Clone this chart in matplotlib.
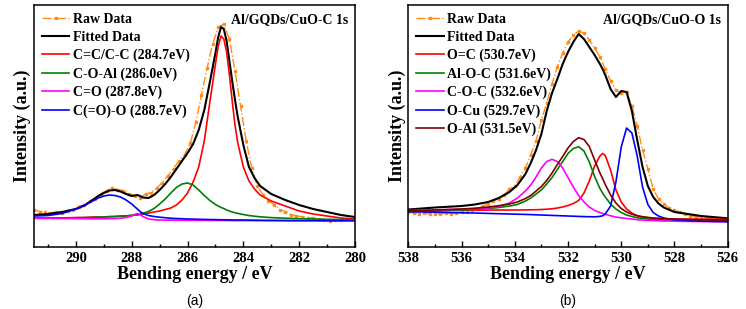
import matplotlib
matplotlib.use('Agg')
import matplotlib.pyplot as plt
from matplotlib.ticker import MultipleLocator

plt.rcParams['font.family'] = ['Liberation Serif', 'DejaVu Serif']
plt.rcParams['font.weight'] = 'bold'

# ---------------- panel (a): C 1s ----------------
raw_e_a = [291.5, 291.3, 291.1, 290.9, 290.7, 290.5, 290.3, 290.1, 289.9, 289.7,
           289.5, 289.3, 289.1, 288.9, 288.7, 288.5, 288.3, 288.1, 287.9, 287.7,
           287.5, 287.3, 287.1, 286.9, 286.7, 286.5, 286.3, 286.1, 285.9, 285.7,
           285.5, 285.3, 285.1, 284.9, 284.7, 284.5, 284.3, 284.1, 283.9, 283.7,
           283.5, 283.3, 283.1, 282.9, 282.7, 282.5, 282.3, 282.1, 281.9, 281.7,
           281.5, 281.3, 281.1, 280.9, 280.7, 280.5, 280.3, 280.1]
raw_i_a = [37.5, 35.5, 35.5, 34.0, 35.0, 34.5, 36.5, 37.5, 40.5, 42.0,
           46.0, 48.5, 53.5, 56.5, 59.5, 57.5, 56.5, 53.5, 51.5, 49.5,
           53.0, 54.5, 59.0, 64.5, 71.5, 78.5, 86.5, 92.5, 104.0, 125.0,
           152.0, 179.0, 203.0, 220.0, 223.0, 208.0, 176.0, 141.0, 106.0, 79.0,
           61.0, 52.5, 46.0, 42.5, 37.5, 35.5, 32.5, 31.0, 30.5, 29.0,
           29.5, 28.0, 27.5, 26.0, 27.0, 27.5, 28.5, 28.0]

grid_a = [291.5, 291.0, 290.5, 290.0, 289.7, 289.4, 289.2, 289.0, 288.8, 288.6,
          288.4, 288.2, 288.0, 287.9, 287.8, 287.7, 287.6, 287.4, 287.2, 287.0,
          286.8, 286.6, 286.4, 286.2, 286.0, 285.8, 285.6, 285.4, 285.2, 285.0,
          284.9, 284.8, 284.7, 284.6, 284.5, 284.4, 284.3, 284.2, 284.0, 283.8,
          283.6, 283.4, 283.0, 282.5, 282.0, 281.5, 281.0, 280.5, 280.0]
fit_a = [32, 33, 35, 38, 41.5, 47, 51, 54, 56.5, 57,
         55.5, 53, 51, 51.5, 52, 51, 49.5, 49, 52, 57,
         63, 70, 78, 86, 94, 103, 117, 137, 165, 194,
         210, 220, 218, 206, 186, 166, 147, 130, 102, 80,
         69, 61, 53, 47, 42, 38, 35, 32, 30]
cc_a = [29, 29, 29, 29.5, 29.5, 30, 30, 30, 30.5, 30.5,
        31, 31, 31.5, 32, 32, 32.5, 33, 34, 35, 36,
        37.5, 39, 42, 47, 54, 65, 80, 106, 145, 183,
        201, 211, 208, 195, 172, 146, 122, 104, 80, 66,
        58, 52, 46, 41, 36, 33, 31, 29, 28]
coal_a = [28.7, 28.8, 29, 29.2, 29.4, 29.6, 29.8, 30, 30.2, 30.5,
          30.8, 31.2, 31.7, 32, 32.5, 33, 33.7, 35.5, 38.5, 43,
          48, 54, 59.5, 63, 64, 62, 57, 51.5, 46.5, 42.5,
          41, 39.5, 38.5, 37, 36, 35, 34.3, 33.6, 32.5, 31.5,
          30.8, 30.2, 29.4, 28.8, 28.3, 28, 27.7, 27.5, 27.3]
co_a = [28.7, 28.6, 28.5, 28.4, 28.3, 28.2, 28.2, 28.2, 28.3, 28.5,
        28.8, 29.5, 31, 32.5, 33.5, 32.5, 30.5, 28, 27.3, 27,
        26.9, 26.9, 26.8, 26.8, 26.7, 26.7, 26.6, 26.6, 26.6, 26.5,
        26.5, 26.5, 26.5, 26.5, 26.5, 26.4, 26.4, 26.4, 26.4, 26.4,
        26.4, 26.4, 26.4, 26.3, 26.3, 26.3, 26.3, 26.3, 26.3]
coo_a = [31, 31.5, 33.5, 38, 41.5, 46, 49, 51, 52, 51.5,
         50, 47, 43, 40.5, 38, 35.5, 33.5, 31.5, 30.5, 29.8,
         29.3, 28.8, 28.5, 28.3, 28, 27.9, 27.7, 27.6, 27.5, 27.4,
         27.3, 27.3, 27.2, 27.2, 27.1, 27.1, 27.0, 27.0, 27.0, 26.9,
         26.8, 26.7, 26.6, 26.5, 26.4, 26.4, 26.3, 26.3, 26.3]

labels_a = ['C=C/C-C (284.7eV)', 'C-O-Al (286.0eV)', 'C=O (287.8eV)', 'C(=O)-O (288.7eV)']
colors_a = ['#FF0000', '#008000', '#FF00FF', '#0000FF']

# ---------------- panel (b): O 1s ----------------
raw_e_b = [538.0, 537.8, 537.6, 537.4, 537.2, 537.0, 536.8, 536.6, 536.4, 536.2,
           536.0, 535.8, 535.6, 535.4, 535.2, 535.0, 534.8, 534.6, 534.4, 534.2,
           534.0, 533.8, 533.6, 533.4, 533.2, 533.0, 532.8, 532.6, 532.4, 532.2,
           532.0, 531.8, 531.6, 531.4, 531.2, 531.0, 530.8, 530.6, 530.4, 530.2,
           530.0, 529.8, 529.6, 529.4, 529.2, 529.0, 528.8, 528.6, 528.4, 528.2,
           528.0, 527.8, 527.6, 527.4, 527.2, 527.0, 526.8, 526.6, 526.4, 526.2, 526.0]
raw_i_b = [35, 34, 33.5, 34, 33, 33.5, 33, 34, 33.5, 34.5,
           35, 35.5, 37, 38.5, 41, 43, 46, 48.5, 52, 58,
           61, 70, 79, 92, 106, 127, 144, 163, 180, 194,
           205, 212, 216, 214, 207, 199, 190, 178, 166, 157,
           154, 155, 141, 121, 97, 78, 58, 48, 43, 39,
           37, 35, 33, 31, 30, 29.5, 29, 28.5, 28, 28, 27.5]

grid_b = [538.0, 537.0, 536.0, 535.5, 535.0, 534.6, 534.2, 533.9, 533.6, 533.4,
          533.2, 533.0, 532.8, 532.6, 532.4, 532.2, 532.0, 531.8, 531.6, 531.4,
          531.2, 531.0, 530.8, 530.7, 530.6, 530.4, 530.2, 530.0, 529.8, 529.6,
          529.4, 529.2, 529.0, 528.8, 528.6, 528.4, 528.0, 527.5, 527.0, 526.0]
fit_b = [37.5, 39.5, 41, 42.5, 45, 49, 55, 62, 73, 84,
         97, 113, 136, 154, 168, 183, 195, 205, 213, 208,
         200, 192, 183, 178, 172, 158, 150, 156, 155, 136,
         107, 80, 61, 50, 43.5, 39.5, 35, 33, 31, 28.7]
oc_b = [36.3, 36.5, 36.7, 36.8, 36.9, 37, 37, 37, 37.1, 37.2,
        37.3, 37.5, 37.8, 38.2, 39, 40, 41.5, 43.5, 46.5, 54,
        66, 81, 91, 93.5, 91.5, 77, 57, 45, 38, 34,
        31.3, 29.8, 29.3, 28.8, 28.5, 28.3, 28, 27.9, 27.8, 27.7]
aloc_b = [35.3, 36, 37, 37.7, 38.5, 39.5, 41, 42.5, 46, 49,
          53, 57, 63, 69.5, 77.5, 85.5, 93.5, 98.5, 100.3, 96,
          85, 70.5, 58.5, 54, 50, 43, 38, 34.5, 32, 30.5,
          29.3, 28.5, 28, 27.5, 27.2, 27, 26.8, 26.6, 26.5, 26.3]
coc_b = [36.3, 37, 37.8, 38.2, 39, 40.5, 44, 49, 56, 62,
         70, 79, 85.5, 87.7, 85.5, 79, 69.5, 60, 51.5, 45,
         40, 36.5, 34.5, 33.5, 32.7, 31.2, 30, 29.2, 28.5, 28,
         27.3, 26.9, 26.6, 26.4, 26.2, 26, 25.8, 25.6, 25.5, 25.3]
ocu_b = [35.3, 34.8, 34.2, 34, 33.6, 33.3, 33, 32.8, 32.6, 32.4,
         32.2, 32, 31.8, 31.6, 31.4, 31.2, 31, 30.8, 30.6, 30.4,
         30.3, 30.2, 30.6, 31.2, 33, 41, 65, 100, 119, 114,
         91, 60, 42.5, 34.5, 31, 29, 27.3, 26.3, 25.8, 25.3]
oal_b = [36.3, 37, 38, 38.8, 40, 41.3, 43, 45, 48.5, 51.5,
         56, 60.5, 66.5, 74, 82.5, 90.5, 99, 105.5, 109.3, 107.5,
         100.5, 87, 74, 68.5, 62.5, 52, 44, 38.5, 35, 32.8,
         31.3, 30.3, 29.6, 29, 28.6, 28.3, 27.9, 27.5, 27.3, 27]

labels_b = ['O=C (530.7eV)', 'Al-O-C (531.6eV)', 'C-O-C (532.6eV)', 'O-Cu (529.7eV)', 'O-Al (531.5eV)']
colors_b = ['#FF0000', '#008000', '#FF00FF', '#0000FF', '#800000']

RAW_COLOR = '#FF8C1A'


def draw_panel(ax, raw_e, raw_i, grid, fit, comps, labels, colors, title, xlim, tag):
    ax.plot(raw_e, raw_i, color=RAW_COLOR, ls='-.', lw=1.0, marker='s', ms=1.6,
            mec=RAW_COLOR, label='Raw Data')
    ax.plot(grid, fit, color='black', lw=1.5, label='Fitted Data')
    for vals, lab, col in zip(comps, labels, colors):
        ax.plot(grid, vals, color=col, lw=1.2, label=lab)

    ax.set_xlim(*xlim)
    ax.set_ylim(0, 242)
    ax.xaxis.set_major_locator(MultipleLocator(2))
    ax.xaxis.set_minor_locator(MultipleLocator(1))
    ax.tick_params(axis='x', which='both', direction='in', top=False, labelsize=10.5, pad=3.5)
    ax.tick_params(axis='x', which='major', length=4, width=1)
    ax.tick_params(axis='x', which='minor', length=2.5, width=1)
    ax.set_yticks([])
    for s in ax.spines.values():
        s.set_linewidth(1.1)

    ax.set_xlabel('Bending energy / eV', fontsize=13, fontweight='bold', labelpad=1)
    ax.set_ylabel('Intensity (a.u.)', fontsize=13, fontweight='bold', labelpad=2)
    ax.text(0.98, 0.94, title, transform=ax.transAxes, ha='right', va='center',
            fontsize=10, fontweight='bold')
    ax.legend(loc='upper left', frameon=False, handlelength=2.0,
              handletextpad=0.25, labelspacing=0.36, borderaxespad=0.3, borderpad=0.25,
              prop={'weight': 'bold', 'size': 10})
    ax.text(0.5, -0.195, tag, transform=ax.transAxes, ha='center', va='top',
            fontsize=10, fontweight='normal', family='Liberation Sans')


fig = plt.figure(figsize=(7.46, 3.09), dpi=100)
ax_a = fig.add_axes([0.0456, 0.2006, 0.4303, 0.7832])
ax_b = fig.add_axes([0.5473, 0.2006, 0.4282, 0.7832])

draw_panel(ax_a, raw_e_a, raw_i_a, grid_a, fit_a, [cc_a, coal_a, co_a, coo_a],
           labels_a, colors_a, 'Al/GQDs/CuO-C 1s', (291.5, 280), '(a)')
draw_panel(ax_b, raw_e_b, raw_i_b, grid_b, fit_b, [oc_b, aloc_b, coc_b, ocu_b, oal_b],
           labels_b, colors_b, 'Al/GQDs/CuO-O 1s', (538, 526), '(b)')

fig.savefig('out.png', dpi=100)
